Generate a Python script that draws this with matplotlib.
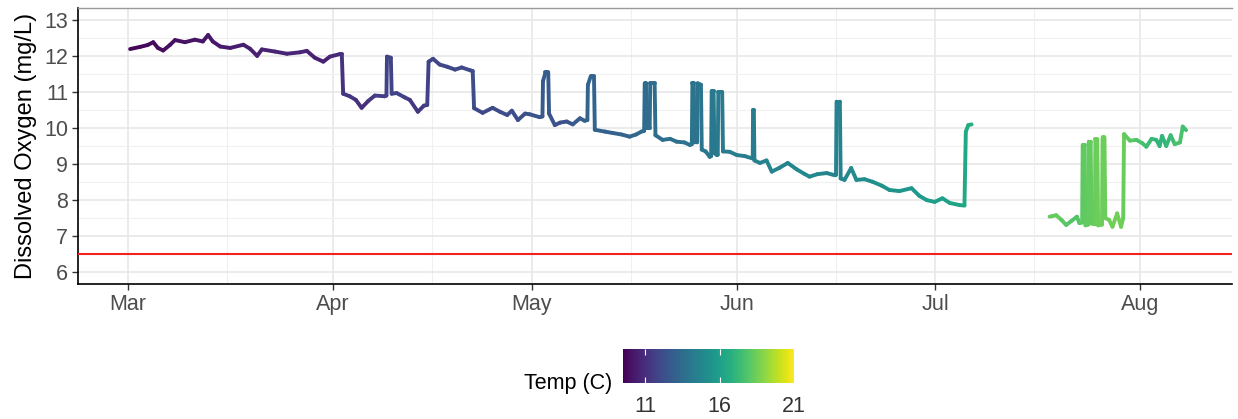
import numpy as np
import pandas as pd
import matplotlib
matplotlib.use("Agg")
import matplotlib.pyplot as plt
import matplotlib.dates as mdates
from matplotlib.collections import LineCollection
from matplotlib.colors import Normalize
from matplotlib.cm import ScalarMappable

plt.rcParams["font.family"] = ["Liberation Sans", "DejaVu Sans"]

# logger readings
timestamps = [
    # March
    "2022-03-01 07:00", "2022-03-02 19:00", "2022-03-03 22:00", "2022-03-04 19:00",
    "2022-03-05 12:00", "2022-03-06 07:00", "2022-03-07 07:00", "2022-03-08 02:00",
    "2022-03-09 14:00", "2022-03-11 02:00", "2022-03-12 07:00", "2022-03-13 02:00",
    "2022-03-13 19:00", "2022-03-14 22:00", "2022-03-16 10:00", "2022-03-18 10:00",
    "2022-03-19 10:00", "2022-03-20 12:00", "2022-03-21 05:00", "2022-03-23 05:00",
    "2022-03-25 00:00", "2022-03-27 00:00", "2022-03-28 00:00", "2022-03-29 05:00",
    "2022-03-30 12:00", "2022-03-31 12:00",
    # April
    "2022-04-02 00:00", "2022-04-02 07:00", "2022-04-02 12:00", "2022-04-03 12:00",
    "2022-04-04 10:00", "2022-04-05 07:00", "2022-04-06 07:00", "2022-04-07 07:00",
    "2022-04-08 19:00", "2022-04-09 01:00", "2022-04-09 03:00", "2022-04-09 17:00",
    "2022-04-09 20:00", "2022-04-10 14:00", "2022-04-11 19:00", "2022-04-12 14:00",
    "2022-04-13 19:00", "2022-04-14 17:00", "2022-04-15 05:00", "2022-04-15 10:00",
    "2022-04-16 02:00", "2022-04-17 02:00", "2022-04-18 05:00", "2022-04-19 10:00",
    "2022-04-20 10:00", "2022-04-21 17:00", "2022-04-22 02:00", "2022-04-22 07:00",
    "2022-04-23 14:00", "2022-04-25 02:00", "2022-04-26 05:00", "2022-04-27 07:00",
    "2022-04-28 00:00", "2022-04-28 22:00", "2022-04-30 00:00", "2022-04-30 17:00",
    # May
    "2022-05-02 05:00", "2022-05-02 15:00", "2022-05-02 17:00", "2022-05-03 02:00",
    "2022-05-03 12:00", "2022-05-03 15:00", "2022-05-04 12:00", "2022-05-05 07:00",
    "2022-05-06 07:00", "2022-05-07 05:00", "2022-05-08 07:00", "2022-05-09 00:00",
    "2022-05-09 10:00", "2022-05-09 12:00", "2022-05-09 22:00", "2022-05-10 10:00",
    "2022-05-10 13:00", "2022-05-12 02:00", "2022-05-13 07:00", "2022-05-14 14:00",
    "2022-05-15 19:00", "2022-05-16 19:00", "2022-05-17 14:00", "2022-05-18 00:00",
    "2022-05-18 02:00", "2022-05-18 07:00", "2022-05-18 10:00", "2022-05-18 20:00",
    "2022-05-18 22:00", "2022-05-19 14:00", "2022-05-19 17:00", "2022-05-20 19:00",
    "2022-05-21 22:00", "2022-05-22 22:00", "2022-05-24 02:00", "2022-05-24 22:00",
    "2022-05-25 05:00", "2022-05-25 07:00", "2022-05-25 12:00", "2022-05-25 15:00",
    "2022-05-26 00:00", "2022-05-26 02:00", "2022-05-26 14:00", "2022-05-26 17:00",
    "2022-05-27 07:00", "2022-05-27 22:00", "2022-05-28 03:00", "2022-05-28 05:00",
    "2022-05-28 12:00", "2022-05-28 15:00", "2022-05-29 00:00", "2022-05-29 03:00",
    "2022-05-29 05:00", "2022-05-29 19:00", "2022-05-29 22:00", "2022-05-30 22:00",
    # June
    "2022-06-01 00:00", "2022-06-02 05:00", "2022-06-03 07:00", "2022-06-03 10:00",
    "2022-06-03 11:00", "2022-06-03 14:00", "2022-06-03 16:00", "2022-06-04 12:00",
    "2022-06-05 12:00", "2022-06-06 07:00", "2022-06-07 12:00", "2022-06-08 17:00",
    "2022-06-10 02:00", "2022-06-11 07:00", "2022-06-12 00:00", "2022-06-13 05:00",
    "2022-06-14 14:00", "2022-06-15 19:00", "2022-06-16 00:00", "2022-06-16 02:00",
    "2022-06-16 14:00", "2022-06-16 17:00", "2022-06-17 07:00", "2022-06-18 07:00",
    "2022-06-19 02:00", "2022-06-20 07:00", "2022-06-21 12:00", "2022-06-22 22:00",
    "2022-06-24 02:00", "2022-06-25 14:00", "2022-06-27 10:00", "2022-06-28 14:00",
    "2022-06-29 17:00", "2022-06-30 22:00",
    # early July, then logger out of the water
    "2022-07-02 02:00", "2022-07-03 05:00", "2022-07-04 17:00", "2022-07-05 10:00",
    "2022-07-05 15:00", "2022-07-06 00:00", "2022-07-06 12:00", "2022-07-12 00:00",
    # late July / August
    "2022-07-18 07:00", "2022-07-19 07:00", "2022-07-20 02:00", "2022-07-20 19:00",
    "2022-07-21 14:00", "2022-07-22 10:00", "2022-07-22 19:00", "2022-07-23 05:00",
    "2022-07-23 07:00", "2022-07-23 14:00", "2022-07-23 17:00", "2022-07-24 03:00",
    "2022-07-24 05:00", "2022-07-24 12:00", "2022-07-24 15:00", "2022-07-25 03:00",
    "2022-07-25 05:00", "2022-07-25 12:00", "2022-07-25 15:00", "2022-07-26 05:00",
    "2022-07-26 07:00", "2022-07-26 14:00", "2022-07-26 17:00", "2022-07-27 07:00",
    "2022-07-27 19:00", "2022-07-28 12:00", "2022-07-29 02:00", "2022-07-29 10:00",
    "2022-07-29 13:00", "2022-07-30 10:00", "2022-07-31 10:00", "2022-08-01 07:00",
    "2022-08-01 22:00", "2022-08-02 17:00", "2022-08-03 10:00", "2022-08-03 22:00",
    "2022-08-04 07:00", "2022-08-04 22:00", "2022-08-05 14:00", "2022-08-06 05:00",
    "2022-08-07 00:00", "2022-08-07 10:00", "2022-08-07 22:00",
]

do_mgl = [
    # March
    12.19, 12.25, 12.30, 12.38, 12.22, 12.15, 12.30, 12.44,
    12.38, 12.45, 12.40, 12.58, 12.40, 12.26, 12.22, 12.31,
    12.20, 12.00, 12.18, 12.12, 12.06, 12.10, 12.14, 11.95,
    11.84, 11.98,
    # April
    12.05, 12.05, 10.95, 10.88, 10.78, 10.56, 10.75, 10.90,
    10.88, 10.90, 11.98, 11.95, 10.95, 10.97, 10.85, 10.78,
    10.45, 10.62, 10.64, 11.84, 11.92, 11.76, 11.70, 11.62,
    11.68, 11.60, 11.58, 10.55, 10.42, 10.56, 10.45, 10.36,
    10.48, 10.22, 10.40, 10.38,
    # May
    10.30, 10.32, 11.30, 11.54, 11.54, 10.40, 10.08, 10.15,
    10.18, 10.10, 10.27, 10.20, 10.22, 11.20, 11.43, 11.43,
    9.95, 9.90, 9.86, 9.82, 9.76, 9.82, 9.90, 9.92,
    11.24, 11.24, 10.00, 10.00, 11.24, 11.24, 9.80, 9.67,
    9.70, 9.62, 9.60, 9.53, 9.55, 11.24, 11.24, 9.60,
    9.60, 11.24, 11.20, 9.40, 9.35, 9.20, 9.22, 11.03,
    11.03, 9.30, 9.25, 9.26, 11.00, 11.00, 9.35, 9.34,
    # June
    9.25, 9.22, 9.16, 9.16, 10.50, 10.50, 9.10, 9.03,
    9.10, 8.79, 8.90, 9.03, 8.85, 8.72, 8.65, 8.72,
    8.75, 8.69, 8.70, 10.73, 10.73, 8.60, 8.56, 8.89,
    8.56, 8.58, 8.51, 8.40, 8.28, 8.25, 8.33, 8.12,
    8.00, 7.95,
    # early July
    8.05, 7.92, 7.86, 7.85, 9.90, 10.08, 10.10, np.nan,
    # late July / August
    7.54, 7.58, 7.45, 7.31, 7.42, 7.54, 7.36, 7.38,
    9.53, 9.53, 7.30, 7.32, 9.62, 9.62, 7.35, 7.33,
    9.69, 9.69, 7.30, 7.32, 9.74, 9.74, 7.50, 7.45,
    7.26, 7.63, 7.26, 7.50, 9.83, 9.65, 9.67, 9.58,
    9.48, 9.70, 9.67, 9.50, 9.78, 9.50, 9.80, 9.55,
    9.60, 10.04, 9.94,
]

temp_c = [
    # March
    9.7, 9.7, 9.8, 9.8, 9.9, 9.9, 9.9, 10.0,
    10.0, 10.1, 10.1, 10.2, 10.2, 10.3, 10.4, 10.4,
    10.5, 10.5, 10.6, 10.6, 10.7, 10.7, 10.7, 10.5,
    10.5, 10.7,
    # April
    10.9, 11.1, 11.3, 11.4, 11.2, 10.9, 11.1, 11.5,
    11.7, 11.7, 11.8, 11.8, 11.8, 11.8, 11.7, 11.5,
    11.2, 11.5, 11.7, 11.8, 11.9, 12.0, 11.9, 12.0,
    12.1, 12.1, 12.2, 12.2, 11.9, 12.1, 12.2, 12.2,
    12.3, 12.1, 12.3, 12.4,
    # May
    12.5, 12.6, 12.7, 12.8, 12.8, 12.7, 12.4, 12.2,
    12.4, 12.7, 12.9, 13.0, 13.1, 13.2, 13.2, 13.2,
    13.1, 13.0, 13.0, 13.1, 13.2, 13.3, 13.4, 13.4,
    13.5, 13.5, 13.5, 13.5, 13.5, 13.5, 13.5, 13.6,
    13.6, 13.7, 13.8, 13.9, 13.9, 13.9, 13.9, 13.9,
    13.9, 13.9, 13.9, 14.0, 14.0, 14.1, 14.1, 14.1,
    14.1, 14.1, 14.2, 14.2, 14.2, 14.2, 14.2, 14.3,
    # June
    14.4, 14.4, 14.4, 14.4, 14.2, 14.2, 14.4, 14.5,
    14.6, 14.7, 14.7, 14.6, 14.8, 14.9, 14.9, 14.9,
    14.8, 14.7, 14.6, 14.5, 14.5, 14.7, 14.9, 14.9,
    15.0, 15.1, 15.2, 15.3, 15.4, 15.5, 15.6, 15.7,
    15.8, 15.9,
    # early July
    16.0, 16.1, 16.2, 16.3, 16.5, 16.6, 16.7, np.nan,
    # late July / August
    18.2, 18.4, 18.2, 18.0, 17.9, 17.8, 18.0, 18.1,
    18.2, 18.2, 18.2, 18.2, 18.3, 18.3, 18.3, 18.3,
    18.4, 18.4, 18.4, 18.4, 18.4, 18.4, 18.4, 18.4,
    18.5, 18.5, 18.5, 18.4, 18.3, 18.1, 17.9, 17.7,
    17.5, 17.3, 17.1, 16.9, 17.1, 17.1, 17.3, 17.6,
    17.8, 17.6, 17.4,
]

do_standard = 6.5
month_ticks = ["2022-03-01", "2022-04-01", "2022-05-01", "2022-06-01", "2022-07-01", "2022-08-01"]
month_labels = ["Mar", "Apr", "May", "Jun", "Jul", "Aug"]
mid_month_ticks = ["2022-03-16", "2022-04-16", "2022-05-16", "2022-06-16", "2022-07-16"]
temp_ticks = [11, 16, 21]
temp_range = (9.5, 21.0)

df = pd.DataFrame({
    "time": pd.to_datetime(timestamps),
    "do": do_mgl,
    "temp": temp_c,
})

x = mdates.date2num(df["time"])
pts = np.column_stack([x, df["do"].values])
segs = np.stack([pts[:-1], pts[1:]], axis=1)
seg_temp = (df["temp"].values[:-1] + df["temp"].values[1:]) / 2
keep = ~np.isnan(segs).any(axis=(1, 2))

norm = Normalize(*temp_range)

fig = plt.figure(figsize=(12.38, 4.19), dpi=100)
ax = fig.add_axes([0.063, 0.322, 0.932, 0.659])

lc = LineCollection(segs[keep], cmap="viridis", norm=norm, linewidths=2.8,
                    capstyle="round", joinstyle="round", zorder=3)
lc.set_array(seg_temp[keep])
ax.add_collection(lc)

ax.axhline(do_standard, color="#f22222", linewidth=1.5, zorder=4)

ax.set_xlim(mdates.date2num(pd.Timestamp("2022-02-21 10:00")),
            mdates.date2num(pd.Timestamp("2022-08-14 20:00")))
ax.set_ylim(5.67, 13.33)

ax.set_xticks(mdates.date2num(pd.to_datetime(month_ticks)))
ax.set_xticklabels(month_labels)
ax.set_xticks(mdates.date2num(pd.to_datetime(mid_month_ticks)), minor=True)
ax.set_yticks(np.arange(6, 14, 1))
ax.set_yticks(np.arange(6.5, 13.5, 1), minor=True)

ax.grid(True, which="major", color="#e6e6e6", linewidth=1.1, zorder=0)
ax.grid(True, which="minor", color="#f0f0f0", linewidth=0.8, zorder=0)
ax.set_axisbelow(True)

ax.tick_params(axis="both", which="major", direction="out", length=4, width=1,
               color="#333333", labelsize=15.5, labelcolor="#4d4d4d", pad=3)
ax.tick_params(axis="both", which="minor", length=0)

for side in ["left", "bottom"]:
    ax.spines[side].set_color("black")
    ax.spines[side].set_linewidth(1.2)
ax.spines["top"].set_color("#9a9a9a")
ax.spines["top"].set_linewidth(1.0)
ax.spines["right"].set_visible(False)

ax.set_ylabel("Dissolved Oxygen (mg/L)", fontsize=17, color="black", labelpad=5)

# colour bar legend
cax = fig.add_axes([623 / 1238, 1 - 383 / 419, 171 / 1238, 34 / 419])
sm = ScalarMappable(norm=norm, cmap="viridis")
cb = fig.colorbar(sm, cax=cax, orientation="horizontal", ticks=temp_ticks)
cb.outline.set_visible(False)
cax.tick_params(direction="in", length=4, width=0.8, color="white",
                labelsize=15.5, labelcolor="#333333", pad=9, top=True)
fig.text(612 / 1238, 1 - 383 / 419, "Temp (C)", ha="right", va="center",
         fontsize=15.5, color="black")

fig.savefig("out.png", dpi=100)
plt.close(fig)
